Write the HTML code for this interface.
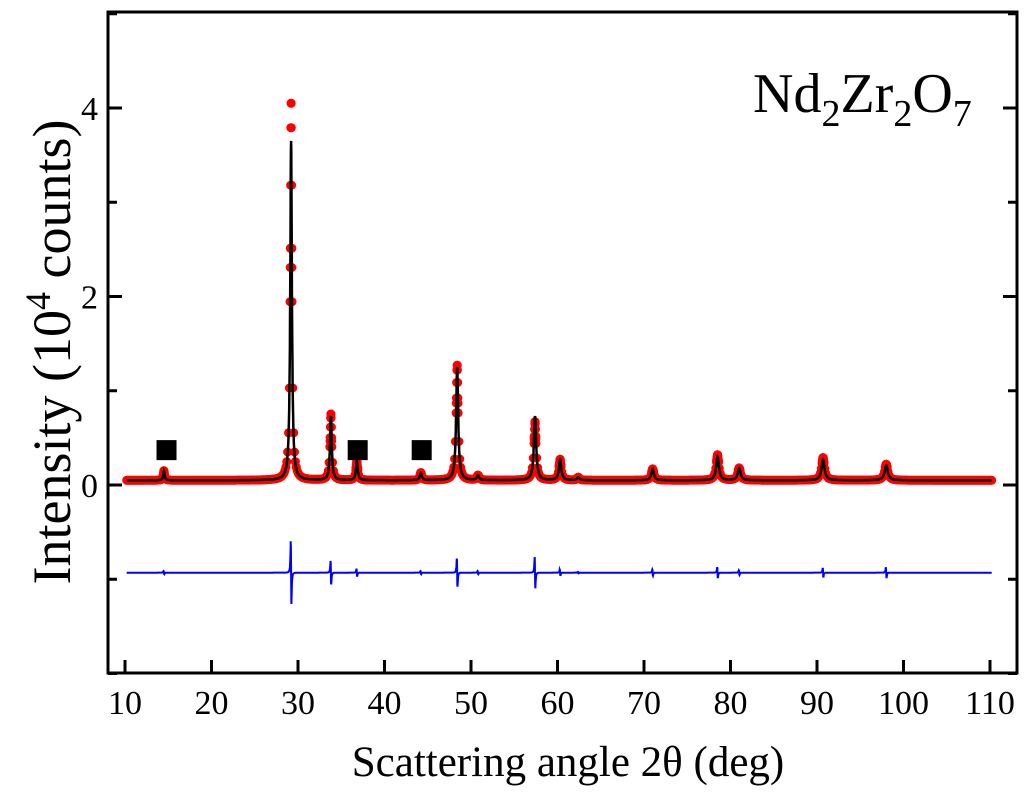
<!DOCTYPE html>
<html><head><meta charset="utf-8"><style>
body{margin:0;background:#fff}
svg text{font-family:"Liberation Serif",serif;fill:#000}
</style></head><body>
<svg id="chart" width="1024" height="795" viewBox="0 0 1024 795" xmlns="http://www.w3.org/2000/svg">
<g id="marks"></g>
<rect x="108" y="12" width="909" height="661" fill="none" stroke="#000" stroke-width="3"/>
<g id="axes"></g>
<text x="753" y="112" font-size="56">Nd<tspan font-size="38" dy="14">2</tspan><tspan dy="-14">Zr</tspan><tspan font-size="38" dy="14">2</tspan><tspan dy="-14">O</tspan><tspan font-size="38" dy="14">7</tspan></text>
<text x="568" y="776" font-size="43" text-anchor="middle">Scattering angle 2θ (deg)</text>
<text transform="translate(70,352) rotate(-90)" font-size="54" text-anchor="middle">Intensity (10<tspan font-size="36" dy="-20">4</tspan><tspan dy="20"> counts)</tspan></text>
</svg>
<script>
const peakPos=[14.5,29.2,33.8,36.8,44.2,48.4,50.8,57.4,60.3,62.4,71.0,78.5,81.0,90.7,98.0];
const peakObs=[0.1,4.0,0.7,0.2,0.08,1.22,0.05,0.62,0.22,0.03,0.12,0.27,0.13,0.24,0.17];
const peakCalc=[0.1,3.6,0.68,0.2,0.08,1.2,0.05,0.68,0.22,0.03,0.12,0.25,0.13,0.22,0.16];
const diffAmp=[0.02,0.4,0.15,0.05,0.02,0.18,0.02,0.2,0.04,0.01,0.04,0.07,0.03,0.06,0.07];
const background=0.05;
const diffOffset=-0.93;
const xTicks=[10,20,30,40,50,60,70,80,90,100,110];
const yTicks=[-2,-1,0,1,2,3,4,5];
const yLabels=[0,2,4];
const phaseMarks=[14.8,36.9,44.3];
const phaseMarkY=0.37;

const NS="http://www.w3.org/2000/svg";
const X=v=>125+(v-10)*8.65;
const Y=v=>485-v*94.25;
function prof(x,h){let s=background;for(let i=0;i<peakPos.length;i++){const w=0.07+0.0015*peakPos[i];const d=(x-peakPos[i])/w;s+=h[i]/(1+d*d);}return s;}
function diff(x){let s=diffOffset;for(let i=0;i<peakPos.length;i++){const w=0.06;const d=(x-peakPos[i])/w;s+=diffAmp[i]*(-2*d)/(1+d*d)/(1+d*d)*1.3;}return s;}
const marks=document.getElementById('marks');
function mk(t,a){const e=document.createElementNS(NS,t);for(const k in a)e.setAttribute(k,a[k]);return e;}
const dots=mk('g',{fill:'#f00'});


for(let x=10.2;x<=110.2;x+=0.1){const c=mk('circle',{cx:X(x).toFixed(1),cy:Y(prof(x,peakObs)).toFixed(1),r:4.5});dots.appendChild(c);}
for(let i=0;i<peakPos.length;i++){for(let k=-4;k<=4;k++){const x=peakPos[i]+k*0.03;const c=mk('circle',{cx:X(x).toFixed(1),cy:Y(prof(x,peakObs)).toFixed(1),r:4.5});dots.appendChild(c);}}
marks.appendChild(dots);
let dc='',dd='';
for(let x=10.2;x<=110.2;x+=0.02){dc+=(dc?'L':'M')+X(x).toFixed(1)+','+Y(prof(x,peakCalc)).toFixed(1);dd+=(dd?'L':'M')+X(x).toFixed(1)+','+Y(diff(x)).toFixed(1);}
const calc=mk('path',{d:dc,fill:'none',stroke:'#000','stroke-width':2.5});


marks.appendChild(calc);
const dl=mk('path',{d:dd,fill:'none',stroke:'#00f','stroke-width':2});


marks.appendChild(dl);
phaseMarks.forEach(p=>{const r=mk('rect',{x:X(p)-10,y:Y(phaseMarkY)-10,width:20,height:20,fill:'#000'});


marks.appendChild(r);});
const ax=document.getElementById('axes');
xTicks.forEach(t=>{const l=mk('line',{x1:X(t),x2:X(t),y1:673,y2:660,stroke:'#000','stroke-width':3});


ax.appendChild(l);
const tx=mk('text',{x:X(t),y:714,'font-size':34,'text-anchor':'middle'});tx.textContent=t;


ax.appendChild(tx);});
yTicks.forEach(t=>{const major=yLabels.includes(t);const len=major?14:9;
[[108,108+len],[1017,1017-len]].forEach(([a,b])=>{const l=mk('line',{x1:a,x2:b,y1:Y(t),y2:Y(t),stroke:'#000','stroke-width':3});


ax.appendChild(l);});
if(major){const tx=mk('text',{x:98,y:Y(t)+12,'font-size':34,'text-anchor':'end'});tx.textContent=t;


ax.appendChild(tx);}});
</script>
</body></html>
